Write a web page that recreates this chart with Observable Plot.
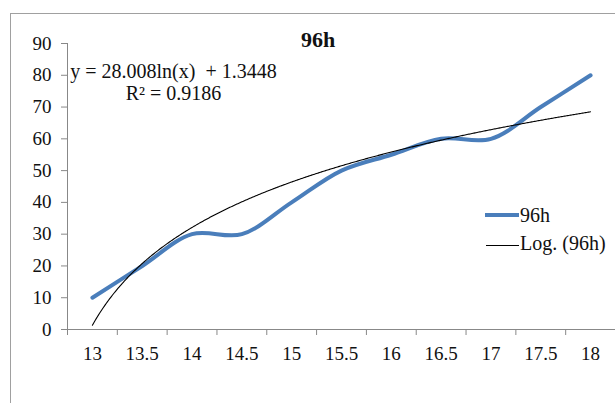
<!DOCTYPE html>
<html>
<head>
<meta charset="utf-8">
<script src="https://cdn.jsdelivr.net/npm/d3@7"></script>
<script src="https://cdn.jsdelivr.net/npm/@observablehq/plot@0.6"></script>
<style>
  html, body { margin: 0; padding: 0; background: #fff; }
  #wrap { position: relative; width: 615px; height: 403px; overflow: hidden; font-family: "Liberation Serif", "Times New Roman", serif; color: #111; }
  #frame { position: absolute; left: 10px; top: 13px; width: 700px; height: 500px; border-top: 1px solid #a0a0a0; border-left: 1px solid #a0a0a0; }
  #chart { position: absolute; left: 0; top: 0; }
  .abs { position: absolute; white-space: pre; }
  #title { left: 318px; top: 29px; transform: translateX(-50%); font-size: 22px; line-height: 22px; font-weight: bold; }
  #eq { left: 173.5px; top: 59.5px; transform: translateX(-50%); font-size: 20px; line-height: 22px; text-align: center; }
  .sw { position: absolute; }
  .lg { position: absolute; font-size: 20px; line-height: 20px; white-space: pre; }
</style>
</head>
<body>
<div id="wrap">
  <div id="frame"></div>
  <div id="chart"></div>
  <div id="title" class="abs"></div>
  <div id="eq" class="abs"></div>
  <div class="sw" style="left:485px; top:213px; width:34px; height:4px; background:#4a7ebb;"></div>
  <div class="lg" id="lg1" style="left:520px; top:205px;"></div>
  <div class="sw" style="left:486px; top:245px; width:33px; height:1px; background:#000;"></div>
  <div class="lg" id="lg2" style="left:520px; top:233px;"></div>
</div>
<script>
// Category labels along the x axis and the 96h readings at each one
const categories = [13, 13.5, 14, 14.5, 15, 15.5, 16, 16.5, 17, 17.5, 18];
const values96h = [10, 20, 30, 30, 40, 50, 55, 60, 60, 70, 80];
const yTicks = [0, 10, 20, 30, 40, 50, 60, 70, 80, 90];

// Logarithmic trendline coefficients (x is the category's position, 1..n)
const trendSlope = 28.008;
const trendIntercept = 1.3448;
const trendR2 = 0.9186;

const seriesName = "96h";
const trendName = "Log. (96h)";

const step = categories[1] - categories[0];
const first = categories[0];
// Category boundaries, where the axis tick marks sit
const boundaries = d3.range(categories.length + 1).map(i => first - step / 2 + i * step);

const series = categories.map((c, i) => ({x: c, y: values96h[i]}));

// Trendline evaluated along the category positions
const trend = d3.range(1, categories.length + 1e-9, 0.02).map(p => ({
  x: first + (p - 1) * step,
  y: trendSlope * Math.log(p) + trendIntercept
}));

const chart = Plot.plot({
  width: 615,
  height: 403,
  marginLeft: 67,
  marginRight: 0,
  marginTop: 43,
  marginBottom: 74,
  style: {fontFamily: "Liberation Serif, Times New Roman, serif", fontSize: "19px", background: "transparent", color: "#111"},
  x: {domain: [boundaries[0], boundaries[boundaries.length - 1]]},
  y: {domain: [0, 90]},
  marks: [
    Plot.ruleX([boundaries[0]], {stroke: "#888", strokeWidth: 1}),
    Plot.ruleY([0], {stroke: "#888", strokeWidth: 1}),
    Plot.axisY({ticks: yTicks, tickSize: 6, tickPadding: 10, stroke: "#888", fill: "#111", label: null}),
    Plot.axisX({ticks: boundaries, tickSize: 6, stroke: "#888", tickFormat: () => "", label: null}),
    Plot.axisX({ticks: categories, tickSize: 0, tickPadding: 17, fill: "#111", tickFormat: d => String(d), label: null}),
    Plot.line(series, {x: "x", y: "y", curve: "catmull-rom", stroke: "#4a7ebb", strokeWidth: 4, strokeLinecap: "round", strokeLinejoin: "round"}),
    Plot.line(trend, {x: "x", y: "y", stroke: "#000", strokeWidth: 1.1})
  ]
});
document.getElementById("chart").appendChild(chart);

document.getElementById("title").textContent = seriesName;
document.getElementById("eq").textContent =
  `y = ${trendSlope.toFixed(3)}ln(x)  + ${trendIntercept}\nR² = ${trendR2}`;
document.getElementById("lg1").textContent = seriesName;
document.getElementById("lg2").textContent = trendName;
</script>
</body>
</html>
